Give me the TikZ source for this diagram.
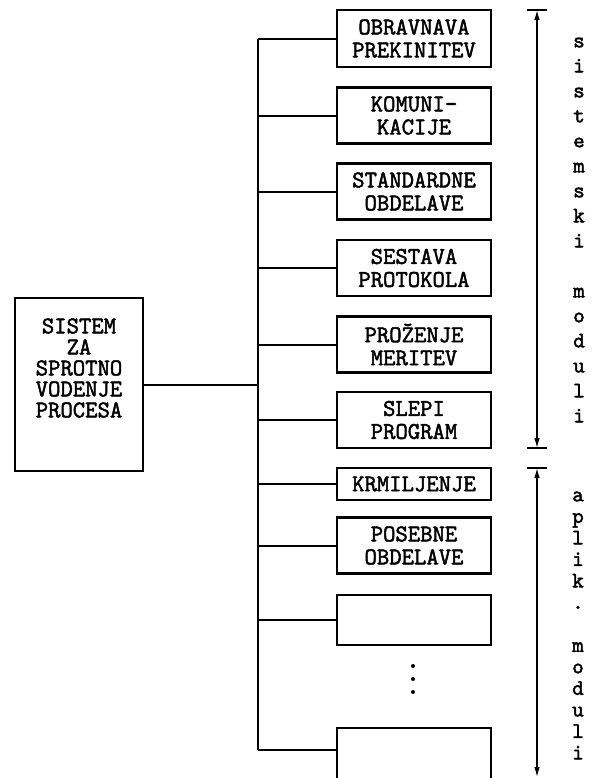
\documentclass[tikz,border=0pt]{standalone}
\usepackage{fontspec}
\setmonofont{Latin Modern Mono}[AutoFakeBold=2]
\usetikzlibrary{arrows.meta, positioning, calc}

\begin{document}
\begin{tikzpicture}[
  x=0.5pt, y=-0.5pt,
  modbox/.style={draw, line width=1.1pt, minimum width=77pt, minimum height=#1, inner sep=0pt, align=center, font=\ttfamily\bfseries\fontsize{12}{11.5}\selectfont},
  modbox/.default=28pt,
  sysbox/.style={draw, line width=1.1pt, minimum width=64pt, minimum height=86.5pt, inner sep=0pt},
  systext/.style={align=center, inner sep=0pt, font=\ttfamily\bfseries\fontsize{12}{10.5}\selectfont},
  wire/.style={line width=1pt},
  dimline/.style={line width=0.6pt, {Latex[length=5pt, width=2.8pt]}-{Latex[length=5pt, width=2.8pt]}},
  dimbar/.style={line width=1.1pt},
  vtext/.style={inner sep=0pt, text height=1ex, text depth=0pt, font=\ttfamily\bfseries\fontsize{11}{11}\selectfont},
]
  \clip (0,0) rectangle (597,778);

  % main system box
  \node[sysbox] (sys) at (79, 384.5) {};
  \node[systext] (systxt) at (79, 368) {SISTEM\\ZA\\SPROTNO\\VODENJE\\PROCESA};

  % module boxes
  \node[modbox=28.5pt] (m1) at (414, 38.5) {OBRAVNAVA\\PREKINITEV};
  \node[modbox] (m2) at (414, 115.5) {KOMUNI-\\KACIJE};
  \node[modbox] (m3) at (414, 191.5) {STANDARDNE\\OBDELAVE};
  \node[modbox] (m4) at (414, 268) {SESTAVA\\PROTOKOLA};
  \node[modbox] (m5) at (414, 344.5) {PROŽENJE\\MERITEV};
  \node[modbox] (m6) at (414, 420) {SLEPI\\PROGRAM};
  \node[modbox=16pt] (m7) at (414, 484) {KRMILJENJE};
  \node[modbox] (m8) at (414, 545.5) {POSEBNE\\OBDELAVE};
  \node[modbox=25pt] (m9) at (414, 620) {};
  \node[modbox=45pt, anchor=north] (m10) at (414, 727) {};
  \coordinate (m10in) at ([yshift=-11.5pt]m10.north west);

  % dots between the empty boxes
  \foreach \j in {0,1,2} {
    \fill (413, 666+\j*13) circle (1pt);
  }

  % bus and branches
  \coordinate (bus) at (258, 0);
  \draw[wire] (sys.east) -- (sys.east -| bus);
  \draw[wire] (m1.west -| bus) -- (m10in -| bus);
  \foreach \m in {m1,m2,m3,m4,m5,m6,m7,m8,m9} {
    \draw[wire] (\m.west) -- (\m.west -| bus);
  }
  \draw[wire] (m10in) -- (m10in -| bus);

  % dimension arrows
  \coordinate (d1a) at (537, 10);
  \coordinate (d1b) at (537, 448);
  \coordinate (d2a) at (537, 468);
  \coordinate (d2b) at (537, 777);
  \draw[dimline] (d1a) -- (d1b);
  \draw[dimline] (d2a) -- (d2b);
  \draw[dimbar] (d1a) ++(-10,0) -- ++(20,0);
  \draw[dimbar] (d1b) ++(-10,0) -- ++(20,0);
  \draw[dimbar] (d2a) ++(-10,0) -- ++(20,0);

  % vertical labels
  \foreach \c [count=\i from 0] in {s,i,s,t,e,m,s,k,i,{},m,o,d,u,l,i} {
    \node[vtext] (vs\i) at (579, 43+\i*25) {\c};
  }
  \foreach \c [count=\i from 0] in {a,p,l,i,k,.,{},m,o,d,u,l,i} {
    \node[vtext] (va\i) at (578, 497+\i*21.5) {\c};
  }
\end{tikzpicture}
\end{document}
